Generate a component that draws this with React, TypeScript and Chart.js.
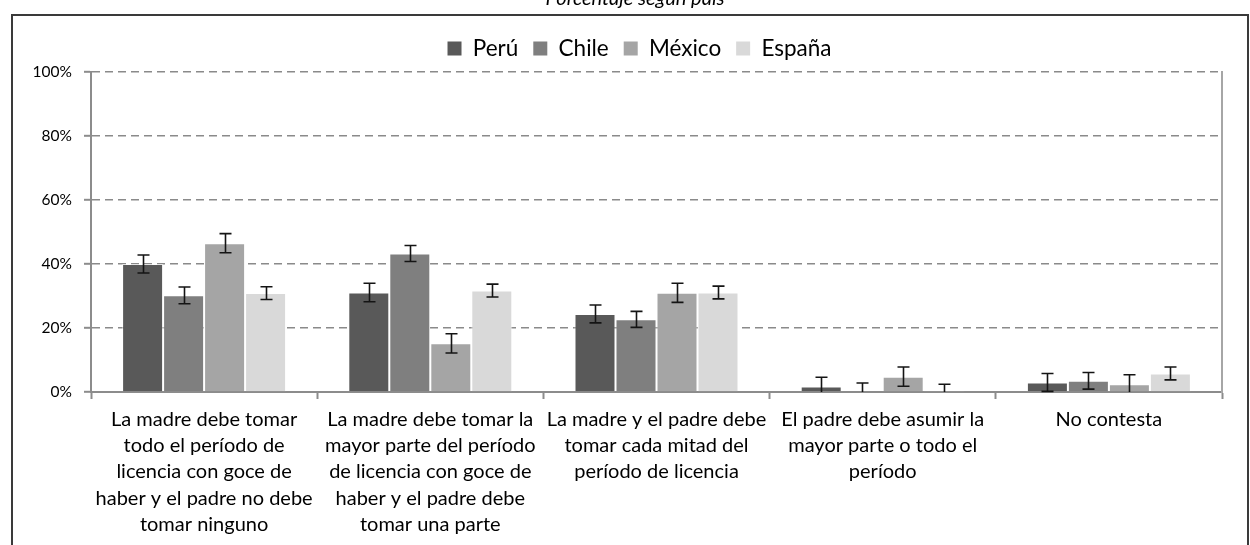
import React, { useEffect, useRef } from 'react';
import { Chart, registerables } from 'chart.js';

Chart.register(...registerables);

const chartTitle = 'Porcentaje según país';

const categories: string[][] = [
  ['La madre debe tomar', 'todo el período de', 'licencia con goce de', 'haber y el padre no debe', 'tomar ninguno'],
  ['La madre debe tomar la', 'mayor parte del período', 'de licencia con goce de', 'haber y el padre debe', 'tomar una parte'],
  ['La madre y el padre debe', 'tomar cada mitad del', 'período de licencia'],
  ['El padre debe asumir la', 'mayor parte o todo el', 'período'],
  ['No contesta'],
];

const seriesNames = ['Perú', 'Chile', 'México', 'España'];

const peru = [40.0, 31.1, 24.4, 1.7, 3.0];
const chile = [30.2, 43.3, 22.7, 0.3, 3.5];
const mexico = [46.5, 15.2, 31.0, 4.8, 2.4];
const espana = [30.9, 31.7, 31.1, 0.4, 5.8];

const peruErr = [2.8, 2.9, 2.8, 2.9, 2.8];
const chileErr = [2.6, 2.5, 2.5, 2.5, 2.6];
const mexicoErr = [3.0, 3.0, 3.0, 3.0, 3.0];
const espanaErr = [2.0, 2.0, 2.0, 2.0, 2.0];

const yTicks = [0, 20, 40, 60, 80, 100];

const seriesColors = ['#595959', '#7f7f7f', '#a5a5a5', '#d9d9d9'];

const FONT = 'Lato, "Open Sans", sans-serif';

const errorBarPlugin = {
  id: 'errorBars',
  afterDatasetsDraw(chart: any) {
    const ctx = chart.ctx;
    const ys = chart.scales.y;
    chart.data.datasets.forEach((ds: any, di: number) => {
      const meta = chart.getDatasetMeta(di);
      const errs: number[] = ds.errors || [];
      meta.data.forEach((bar: any, i: number) => {
        const v = ds.data[i] as number;
        const e = errs[i] || 0;
        const hiV = v + e;
        const loV = v - e;
        const hi = ys.getPixelForValue(hiV);
        const lo = ys.getPixelForValue(Math.max(0, loV));
        const x = Math.round(bar.x) + 0.5;
        ctx.save();
        ctx.strokeStyle = '#141414';
        ctx.lineWidth = 1.6;
        ctx.beginPath();
        ctx.moveTo(x, hi);
        ctx.lineTo(x, lo);
        ctx.moveTo(x - 6, hi);
        ctx.lineTo(x + 6, hi);
        if (loV > 0) {
          ctx.moveTo(x - 6, lo);
          ctx.lineTo(x + 6, lo);
        }
        ctx.stroke();
        ctx.restore();
      });
    });
  },
};

const framePlugin = {
  id: 'frame',
  beforeDraw(chart: any) {
    const ctx = chart.ctx;
    ctx.save();
    ctx.fillStyle = '#ffffff';
    ctx.fillRect(0, 0, chart.width, chart.height);
    ctx.strokeStyle = '#3a3a3a';
    ctx.lineWidth = 2;
    ctx.strokeRect(12, 15, 1236, 560);
    ctx.fillStyle = '#000';
    ctx.font = `italic 20px ${FONT}`;
    ctx.textAlign = 'center';
    ctx.textBaseline = 'alphabetic';
    ctx.fillText(chartTitle, 635, 4.5);
    ctx.restore();
  },
};

export default function App() {
  const ref = useRef<HTMLCanvasElement | null>(null);

  useEffect(() => {
    if (!ref.current) return;
    const values = [peru, chile, mexico, espana];
    const errors = [peruErr, chileErr, mexicoErr, espanaErr];
    const chart = new Chart(ref.current, {
      type: 'bar',
      data: {
        labels: categories,
        datasets: seriesNames.map((name, i) => ({
          label: name,
          data: values[i],
          errors: errors[i],
          backgroundColor: seriesColors[i],
          borderColor: 'rgba(255,255,255,0.55)',
          borderWidth: 1,
          categoryPercentage: 0.725,
          barPercentage: 1,
        })) as any,
      },
      options: {
        responsive: false,
        devicePixelRatio: 1,
        animation: false,
        layout: { padding: { left: 29, right: 0, top: 22.25, bottom: 0 } },
        plugins: {
          legend: {
            display: true,
            position: 'top',
            align: 'center',
            labels: {
              boxWidth: 14,
              boxHeight: 14,
              padding: 15,
              color: '#000',
              font: { family: FONT, size: 22.5 },
              generateLabels: (c: any) =>
                (Chart.defaults.plugins.legend.labels.generateLabels as any)(c).map((l: any) => ({
                  ...l,
                  lineWidth: 0,
                  strokeStyle: 'rgba(0,0,0,0)',
                })),
            },
          },
          subtitle: {
            display: true,
            text: '',
            weight: 500,
            font: { size: 1, lineHeight: 1 },
            padding: { top: 0, bottom: 1.25 },
          } as any,
          title: { display: false },
          tooltip: { enabled: false },
        },
        scales: {
          x: {
            type: 'category',
            offset: true,
            afterFit: (s: any) => {
              s.height = 153;
            },
            ticks: {
              color: '#000',
              font: { family: FONT, size: 20, lineHeight: 1.315 },
              padding: 7,
              maxRotation: 0,
              minRotation: 0,
              autoSkip: false,
            },
            grid: {
              offset: true,
              drawOnChartArea: false,
              drawTicks: true,
              tickLength: 7,
              tickColor: '#8c8c8c',
              tickWidth: 2,
            },
            border: { display: true, color: '#8c8c8c', width: 2 },
          },
          y: {
            type: 'linear',
            min: 0,
            max: 100,
            afterFit: (s: any) => {
              s.width = 62;
            },
            afterBuildTicks: (s: any) => {
              s.ticks = yTicks.map((v) => ({ value: v }));
            },
            ticks: {
              color: '#000',
              font: { family: FONT, size: 15.5 },
              padding: 12,
              callback: (v: any) => `${v}%`,
            },
            grid: {
              color: '#8a8a8a',
              lineWidth: 1.6,
              drawTicks: true,
              tickLength: 7,
              tickColor: '#8c8c8c',
              tickWidth: 2,
              tickBorderDash: [],
            },
            border: { display: true, color: '#8c8c8c', width: 2, dash: [8, 5] },
          },
          y2: {
            type: 'linear',
            position: 'right',
            display: true,
            afterFit: (s: any) => {
              s.width = 28;
            },
            ticks: { display: false },
            grid: { drawOnChartArea: false, drawTicks: false },
            border: { display: true, color: '#a6a6a6', width: 2 },
          },
        },
      } as any,
      plugins: [framePlugin, errorBarPlugin],
    });
    return () => chart.destroy();
  }, []);

  return (
    <div style={{ position: 'absolute', left: 0, top: 0, width: 1250, height: 545 }}>
      <canvas ref={ref} width={1250} height={545} style={{ display: 'block' }} />
    </div>
  );
}
